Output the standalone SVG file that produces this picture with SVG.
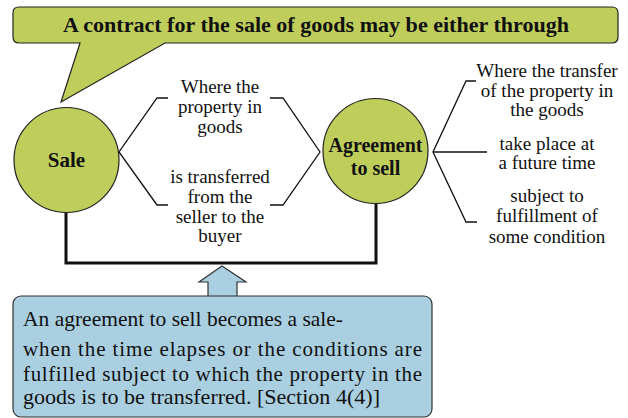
<svg xmlns="http://www.w3.org/2000/svg" width="628" height="418" viewBox="0 0 628 418">
<rect width="628" height="418" fill="#ffffff"/>
<g id="title">
<path d="M19,7 H612 Q618,7 618,13 V37 Q618,43 612,43 H165 L61,102 L80,43 H19 Q13,43 13,37 V13 Q13,7 19,7 Z" fill="#BFCE5B" stroke="#222" stroke-width="1.2"/>
<text x="316" y="31.5" font-size="21" font-weight="bold" text-anchor="middle" fill="#111" style="font-family:'Liberation Serif',serif" textLength="506" lengthAdjust="spacingAndGlyphs">A contract for the sale of goods may be either through</text>
</g>
<g id="connectors" fill="none" stroke="#111" stroke-width="1.3">
<polyline points="168,98 157,98 119,152 157,205 168,205"/>
<polyline points="270,98 283,98 320,152 283,205 270,205"/>
<polyline points="476,81 466,81 433,152 466,222 477,222"/>
<line x1="433" y1="152" x2="487" y2="152"/>
<polyline points="66,212 66,263 376,263 376,203" stroke-width="3"/>
</g>
<g id="sale">
<circle cx="66.5" cy="160" r="52.5" fill="#BFCE5B" stroke="#222" stroke-width="1.2"/>
<text x="66.5" y="167" font-size="21" font-weight="bold" text-anchor="middle" fill="#111" style="font-family:'Liberation Serif',serif">Sale</text>
</g>
<g id="agreement">
<circle cx="375.5" cy="151" r="52.5" fill="#BFCE5B" stroke="#222" stroke-width="1.2"/>
<text x="375.5" y="152" font-size="20" font-weight="bold" text-anchor="middle" fill="#111" style="font-family:'Liberation Serif',serif">Agreement</text>
<text x="375.5" y="175" font-size="20" font-weight="bold" text-anchor="middle" fill="#111" style="font-family:'Liberation Serif',serif">to sell</text>
</g>
<g id="sale-desc">
<text x="220" y="93" font-size="19" text-anchor="middle" fill="#111" style="font-family:'Liberation Serif',serif">Where the</text>
<text x="220" y="113" font-size="19" text-anchor="middle" fill="#111" style="font-family:'Liberation Serif',serif">property in</text>
<text x="220" y="133" font-size="19" text-anchor="middle" fill="#111" style="font-family:'Liberation Serif',serif">goods</text>
<text x="220" y="183" font-size="19" text-anchor="middle" fill="#111" style="font-family:'Liberation Serif',serif">is transferred</text>
<text x="220" y="203" font-size="19" text-anchor="middle" fill="#111" style="font-family:'Liberation Serif',serif">from the</text>
<text x="220" y="223" font-size="19" text-anchor="middle" fill="#111" style="font-family:'Liberation Serif',serif">seller to the</text>
<text x="220" y="242" font-size="19" text-anchor="middle" fill="#111" style="font-family:'Liberation Serif',serif">buyer</text>
</g>
<g id="agreement-desc">
<text x="547" y="77" font-size="19" text-anchor="middle" fill="#111" style="font-family:'Liberation Serif',serif">Where the transfer</text>
<text x="547" y="97" font-size="19" text-anchor="middle" fill="#111" style="font-family:'Liberation Serif',serif">of the property in</text>
<text x="547" y="116" font-size="19" text-anchor="middle" fill="#111" style="font-family:'Liberation Serif',serif">the goods</text>
<text x="547" y="150" font-size="19" text-anchor="middle" fill="#111" style="font-family:'Liberation Serif',serif">take place at</text>
<text x="547" y="169" font-size="19" text-anchor="middle" fill="#111" style="font-family:'Liberation Serif',serif">a future time</text>
<text x="547" y="202" font-size="19" text-anchor="middle" fill="#111" style="font-family:'Liberation Serif',serif">subject to</text>
<text x="547" y="222" font-size="19" text-anchor="middle" fill="#111" style="font-family:'Liberation Serif',serif">fulfillment of</text>
<text x="547" y="243" font-size="19" text-anchor="middle" fill="#111" style="font-family:'Liberation Serif',serif">some condition</text>
</g>
<g id="arrow">
<path d="M222,266 L246,282 H237 V297 H208 V282 H199 Z" fill="#A9CFE1" stroke="#333" stroke-width="1.2"/>
</g>
<g id="note">
<rect x="13" y="296" width="419" height="121" rx="8" fill="#A9CFE1" stroke="#333" stroke-width="1.2"/>
<text x="23" y="326" font-size="21" fill="#111" style="font-family:'Liberation Serif',serif" textLength="320" lengthAdjust="spacingAndGlyphs">An agreement to sell becomes a sale-</text>
<text x="23" y="356" font-size="21" fill="#111" style="font-family:'Liberation Serif',serif" textLength="399" lengthAdjust="spacing">when the time elapses or the conditions are</text>
<text x="23" y="381" font-size="21" fill="#111" style="font-family:'Liberation Serif',serif" textLength="399" lengthAdjust="spacing">fulfilled subject to which the property in the</text>
<text x="23" y="404" font-size="21" fill="#111" style="font-family:'Liberation Serif',serif" textLength="357" lengthAdjust="spacingAndGlyphs">goods is to be transferred. [Section 4(4)]</text>
</g>
</svg>
